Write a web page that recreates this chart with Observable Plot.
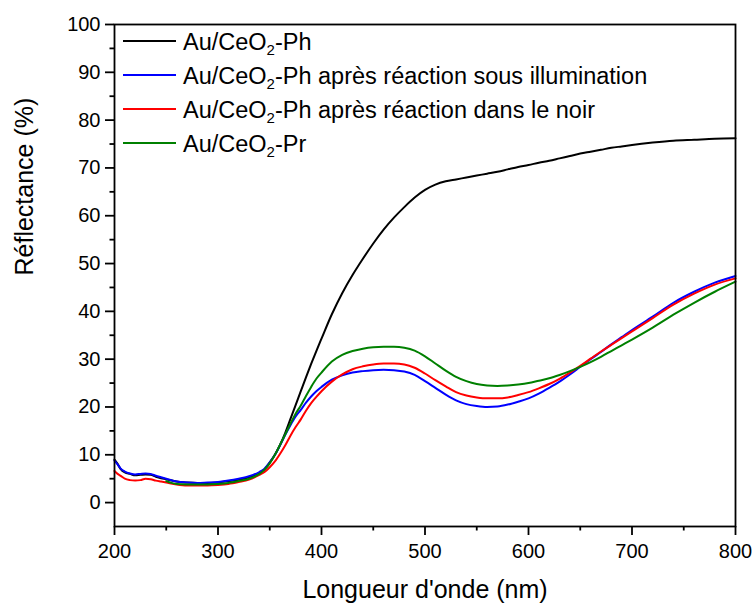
<!DOCTYPE html>
<html>
<head>
<meta charset="utf-8">
<script src="https://cdn.jsdelivr.net/npm/d3@7"></script>
<script src="https://cdn.jsdelivr.net/npm/@observablehq/plot@0.6"></script>
<style>
  body { margin: 0; background: #fff; }
  #chart { width: 753px; height: 604px; }
</style>
</head>
<body>
<div id="chart"></div>
<script>
// ---- data ----
const wavelength = [200,203,206,210,215,220,225,230,235,240,245,250,260,270,280,290,300,310,320,330,340,345,
  350,355,360,365,370,375,380,385,390,395,400,410,420,430,440,450,460,470,480,490,500,
  510,520,530,540,550,560,570,580,590,600,610,620,630,640,650,660,670,680,690,700,720,740,760,780,800];

const reflPh = [9.0,8.1,7.0,6.3,6.0,5.7,5.8,5.9,5.8,5.4,5.1,4.9,4.4,4.2,4.1,4.1,4.2,4.5,4.8,5.3,6.2,7.0,
  8.4,10.0,12.1,14.6,17.5,20.4,23.3,26.2,29.0,31.7,34.3,39.4,43.8,47.6,51.0,54.2,57.1,59.6,61.8,63.8,65.4,
  66.5,67.2,67.6,68.0,68.4,68.8,69.2,69.7,70.2,70.6,71.1,71.5,72.0,72.5,73.0,73.4,73.8,74.2,74.5,74.8,75.3,75.7,75.9,76.1,76.2];

const reflPhLight = [8.8,8.0,7.1,6.5,6.1,5.9,6.0,6.1,6.0,5.6,5.3,5.0,4.4,4.2,4.1,4.2,4.3,4.6,5.0,5.5,6.4,7.1,
  8.4,10.0,12.0,14.2,16.2,18.0,19.4,20.9,22.2,23.3,24.2,25.7,26.6,27.2,27.5,27.7,27.8,27.7,27.4,26.7,25.4,
  24.0,22.6,21.4,20.6,20.2,20.0,20.1,20.5,21.1,21.8,22.8,24.0,25.3,26.8,28.4,30.0,31.5,33.1,34.6,36.1,38.9,41.8,44.1,46.0,47.4];

const reflPhDark = [6.6,6.0,5.6,5.0,4.7,4.6,4.7,5.0,4.9,4.6,4.4,4.2,3.8,3.6,3.6,3.6,3.7,3.9,4.3,4.8,5.8,6.4,
  7.4,8.6,10.2,12.0,14.0,15.8,17.4,19.2,20.8,22.1,23.3,25.3,26.8,27.9,28.5,28.9,29.1,29.1,28.9,28.2,27.0,
  25.6,24.3,23.1,22.4,22.0,21.8,21.8,22.0,22.5,23.1,23.9,24.8,25.9,27.2,28.6,30.1,31.6,33.0,34.4,35.8,38.6,41.4,43.7,45.6,46.9];

const reflPr = [null,null,null,null,null,null,null,null,null,null,null,4.5,3.9,3.8,3.8,3.8,3.9,4.1,4.5,5.0,6.0,6.9,
  8.2,10.0,12.1,14.3,16.5,18.6,20.3,22.3,24.2,25.9,27.2,29.5,30.9,31.7,32.2,32.5,32.6,32.6,32.4,31.8,30.6,
  29.1,27.6,26.3,25.4,24.8,24.5,24.4,24.5,24.7,25.0,25.5,26.0,26.7,27.5,28.4,29.4,30.5,31.7,32.9,34.1,36.6,39.3,41.8,44.1,46.2];

const legendSuffixes = ["-Ph", "-Ph après réaction sous illumination", "-Ph après réaction dans le noir", "-Pr"];
const seriesColors = ["#000000", "#0000ff", "#ff0000", "#008000"];
const xTicks = [200, 300, 400, 500, 600, 700, 800];
const xMinorTicks = [250, 350, 450, 550, 650, 750];
const yTicks = [0, 10, 20, 30, 40, 50, 60, 70, 80, 90, 100];
const yMinorTicks = [5, 15, 25, 35, 45, 55, 65, 75, 85, 95];
const xTitle = "Longueur d'onde (nm)";
const yTitle = "Réflectance (%)";

// ---- build ----
const seriesValues = [reflPh, reflPhLight, reflPhDark, reflPr];
const toRows = vals => wavelength.map((w, i) => ({w, r: vals[i]})).filter(d => d.r != null);
const FONT = "'Liberation Sans', Arial, Helvetica, sans-serif";

const plot = Plot.plot({
  width: 753,
  height: 604,
  marginLeft: 114,
  marginRight: 18,
  marginTop: 24,
  marginBottom: 78,
  style: {fontFamily: FONT, fontSize: "20px", background: "#fff", color: "#000"},
  x: {domain: [200, 800]},
  y: {domain: [-5, 100]},
  marks: [
    Plot.axisX(xTicks, {tickSize: 9, tickPadding: 8, strokeWidth: 1.8, label: null, fontSize: 20}),
    Plot.axisX(xMinorTicks, {tickSize: 4.5, strokeWidth: 1.8, tickFormat: () => "", label: null}),
    Plot.axisY(yTicks, {tickSize: 9, tickPadding: 5, strokeWidth: 1.8, label: null, fontSize: 20}),
    Plot.axisY(yMinorTicks, {tickSize: 4.5, strokeWidth: 1.8, tickFormat: () => "", label: null}),
    ...seriesValues.map((vals, i) => Plot.line(toRows(vals), {
      x: "w", y: "r", stroke: seriesColors[i], strokeWidth: 2, curve: "monotone-x"
    })),
    Plot.frame({stroke: "#000", strokeWidth: 1.8}),
    Plot.text([xTitle], {frameAnchor: "bottom", dy: 63, fontSize: 25, lineAnchor: "middle"}),
    Plot.text([yTitle], {frameAnchor: "left", dx: -90, rotate: -90, fontSize: 25, lineAnchor: "middle"})
  ]
});

document.getElementById("chart").appendChild(plot);

// ---- legend (with subscript) ----
const svg = d3.select(plot);
const lg = svg.append("g")
  .attr("font-family", FONT)
  .attr("font-size", 23.5)
  .attr("fill", "#000")
  .attr("text-anchor", "start");
legendSuffixes.forEach((suffix, i) => {
  const yLine = 41 + i * 34;
  lg.append("line")
    .attr("x1", 123).attr("x2", 176).attr("y1", yLine).attr("y2", yLine)
    .attr("stroke", seriesColors[i]).attr("stroke-width", 2);
  const t = lg.append("text").attr("x", 183).attr("y", yLine + 8.5).attr("text-anchor", "start");
  t.append("tspan").text("Au/CeO");
  t.append("tspan").attr("font-size", 15).attr("dy", 5).text("2");
  t.append("tspan").attr("dy", -5).text(suffix);
});
</script>
</body>
</html>
